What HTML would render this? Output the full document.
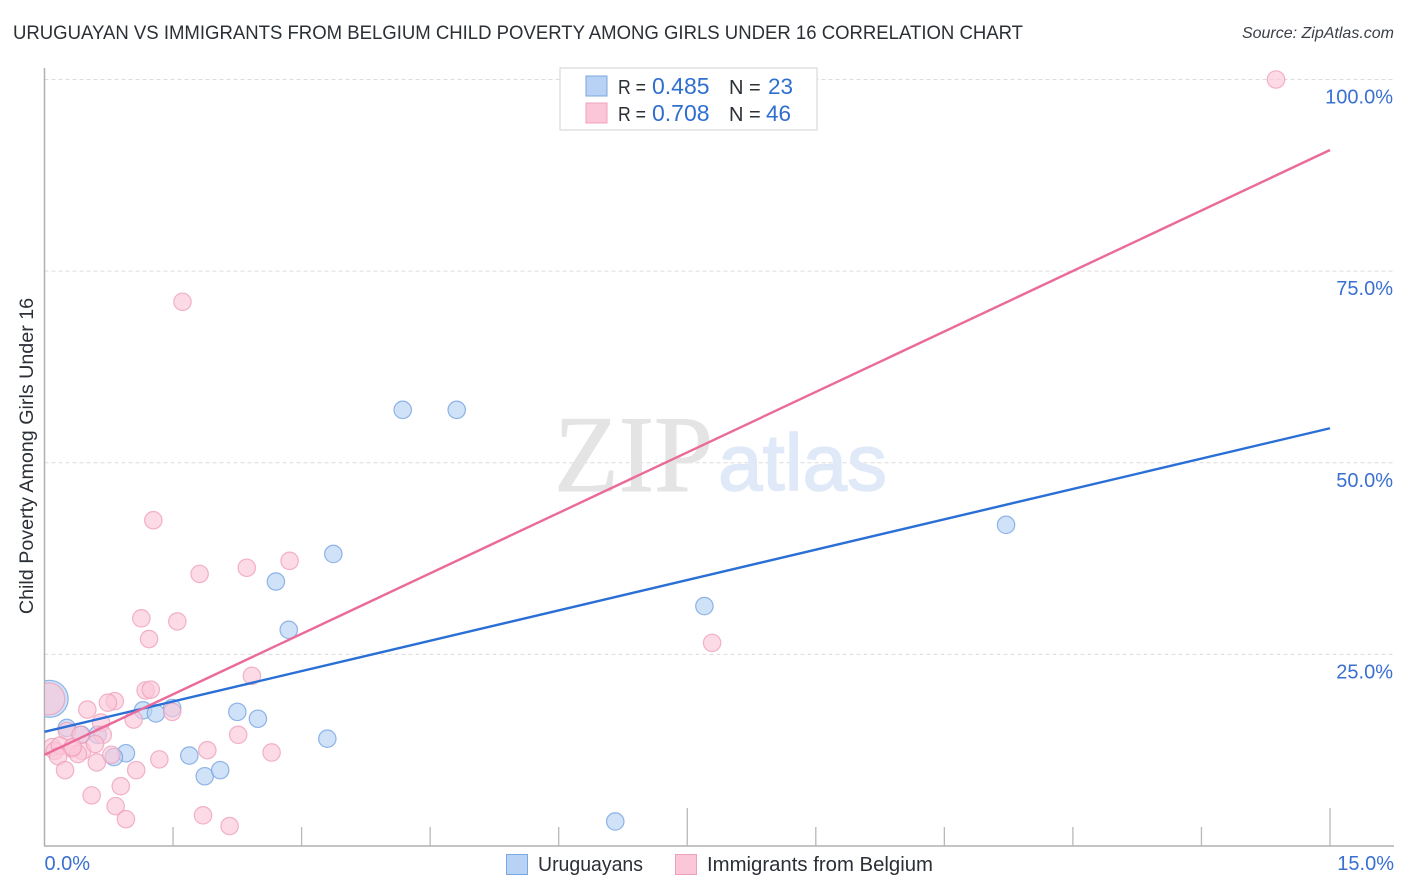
<!DOCTYPE html>
<html lang="en">
<head>
<meta charset="utf-8">
<title>Uruguayan vs Immigrants from Belgium Child Poverty Correlation Chart</title>
<style>
html,body{margin:0;padding:0;background:#fff;width:1406px;height:892px;overflow:hidden}
svg{display:block;font-family:"Liberation Sans",sans-serif}
</style>
</head>
<body>
<svg id="chart" xmlns="http://www.w3.org/2000/svg" width="1406" height="892" viewBox="0 0 1406 892">
  <defs><clipPath id="plot-clip"><rect x="45" y="60" width="1349" height="786"/></clipPath></defs>
  <text x="13" y="39" font-size="19.5" fill="#2b2f36" textLength="1010" lengthAdjust="spacingAndGlyphs">URUGUAYAN VS IMMIGRANTS FROM BELGIUM CHILD POVERTY AMONG GIRLS UNDER 16 CORRELATION CHART</text>
  <text x="1394" y="38" font-size="16" font-style="italic" fill="#3a3f47" text-anchor="end">Source: ZipAtlas.com</text>
  <g id="grid"></g>
  <g>
    <text x="554" y="491" font-family="'Liberation Serif',serif" font-size="109" fill="#e4e4e4" stroke="#e4e4e4" stroke-width="1" textLength="159" lengthAdjust="spacingAndGlyphs">ZIP</text>
    <text x="718" y="490" font-size="80" fill="#dfe9f8" stroke="#dfe9f8" stroke-width="1.5" textLength="169" lengthAdjust="spacingAndGlyphs">atlas</text>
  </g>
  <g id="axes"></g>
  <g id="points" clip-path="url(#plot-clip)"></g>
  <g id="trends"></g>
  <g id="ticklabels"></g>
  <text transform="translate(33,456) rotate(-90)" font-size="19.7" fill="#2b2f36" text-anchor="middle">Child Poverty Among Girls Under 16</text>

  <g>
    <rect x="560" y="68" width="257" height="62" fill="#fff" stroke="#dcdcdc" stroke-width="1.3"/>
    <rect x="586" y="76" width="21" height="20" fill="#b7d2f5" stroke="#7ba7e2" stroke-width="1"/>
    <rect x="586" y="103" width="21" height="20" fill="#fbc6d8" stroke="#f0a0bc" stroke-width="1"/>
    <text y="94" font-size="20" fill="#2b2f36"><tspan x="618" textLength="28" lengthAdjust="spacingAndGlyphs">R =</tspan><tspan x="652" fill="#2f6fd0" font-size="23">0.485</tspan><tspan x="729">N =</tspan><tspan x="768" fill="#2f6fd0" font-size="22.5">23</tspan></text>
    <text y="121" font-size="20" fill="#2b2f36"><tspan x="618" textLength="28" lengthAdjust="spacingAndGlyphs">R =</tspan><tspan x="652" fill="#2f6fd0" font-size="23">0.708</tspan><tspan x="729">N =</tspan><tspan x="766" fill="#2f6fd0" font-size="22.5">46</tspan></text>
  </g>

  <g>
    <rect x="506.500" y="854.500" width="21" height="20" fill="#b7d2f5" stroke="#7ba7e2" stroke-width="1"/>
    <text x="538" y="871" font-size="20" fill="#2b2f36" textLength="105" lengthAdjust="spacingAndGlyphs">Uruguayans</text>
    <rect x="675.500" y="854.500" width="21" height="20" fill="#fbc6d8" stroke="#f0a0bc" stroke-width="1"/>
    <text x="707" y="871" font-size="20" fill="#2b2f36" textLength="226" lengthAdjust="spacingAndGlyphs">Immigrants from Belgium</text>
  </g>
</svg>
<script>
// Chart data (x = percent on horizontal axis, y = child poverty percent)
var uruguayansX = [4.18,4.81,11.22,3.37,2.70,7.70,2.85,1.49,1.15,1.30,2.25,2.49,3.30,0.26,0.43,0.62,0.95,0.81,1.69,1.87,2.05,6.66];
var uruguayansY = [56.9,56.9,41.9,38.1,34.5,31.3,28.2,18.0,17.7,17.3,17.5,16.6,14.0,15.4,14.5,14.5,12.1,11.6,11.8,9.1,9.9,3.2];
var uruguayansBubbleX = [0.06];
var uruguayansBubbleY = [19.2];
var belgiumX = [14.37,1.61,1.27,1.81,2.36,2.86,1.13,1.55,1.22,7.79,2.42,1.18,1.24,0.82,0.74,0.50,1.49,1.04,0.66,2.26,0.68,1.90,2.65,1.34,0.44,0.59,0.26,0.42,0.09,0.12,0.18,0.32,0.39,0.16,0.33,0.61,0.24,0.78,1.07,0.89,0.55,0.83,0.95,1.85,2.16];
var belgiumY = [100.0,71.0,42.5,35.5,36.3,37.2,29.7,29.3,27.0,26.5,22.2,20.3,20.4,18.9,18.7,17.8,17.5,16.5,16.1,14.5,14.5,12.5,12.2,11.3,12.4,13.3,15.0,14.5,12.9,12.4,13.1,12.7,12.0,11.7,12.9,10.9,9.9,11.9,9.9,7.8,6.6,5.2,3.5,4.0,2.6];
var belgiumBubbleX = [0.05];
var belgiumBubbleY = [19.2];
var blueTrendX = [0,15];
var blueTrendY = [14.9,54.5];
var pinkTrendX = [0,15];
var pinkTrendY = [11.9,90.8];
var yTickValues = [25,50,75,100];
var yTickLabels = ["25.0%","50.0%","75.0%","100.0%"];
var xTickValues = [0,1.5,3,4.5,6,7.5,9,10.5,12,13.5,15];
var xEndValues = [0,15];
var xEndLabels = ["0.0%","15.0%"];

var NS = "http://www.w3.org/2000/svg";
function xScale(v){ return 44.5 + v * 85.7; }
function yScale(v){ return 846 - v * 7.665; }
function make(tag, attrs, parent){
  var el = document.createElementNS(NS, tag);
  for (var k in attrs) el.setAttribute(k, attrs[k]);
  parent.appendChild(el);
  return el;
}
var grid = document.getElementById("grid");
var axes = document.getElementById("axes");
var points = document.getElementById("points");
var trends = document.getElementById("trends");
var labels = document.getElementById("ticklabels");

yTickValues.forEach(function(v, i){
  var y = yScale(v);
  var g = make("line", {x1:44.5, x2:1394, y1:y, y2:y, stroke:"#dcdcdc", "stroke-width":1, "stroke-dasharray":"4 3"}, grid);
  
  
  var t = make("text", {x:1393, y:y+24, "font-size":20, fill:"#3a70d2", "text-anchor":"end"}, labels);
  t.textContent = yTickLabels[i];
  
  
});

var yAxis = make("line", {x1:44.5, x2:44.5, y1:68, y2:846, stroke:"#b0b0b0", "stroke-width":1.5}, axes);


var xAxis = make("line", {x1:44, x2:1394, y1:846, y2:846, stroke:"#b0b0b0", "stroke-width":1.5}, axes);



xTickValues.forEach(function(v, i){
  if (i === 0) return;
  var major = (i === 5 || i === 10);
  var x = xScale(v);
  var tk = make("line", {x1:x, x2:x, y1: major ? 808 : 827, y2:846, stroke:"#b8b8b8", "stroke-width":1.3}, axes);
  
  
});

xEndValues.forEach(function(v, i){
  var t = make("text", {x: i === 0 ? xScale(v) : 1394, y:870, "font-size":20, fill:"#3a70d2", "text-anchor": i === 0 ? "start" : "end"}, labels);
  t.textContent = xEndLabels[i];
  
  
});

function drawSeries(xs, ys, r, fill, stroke){
  xs.forEach(function(v, i){
    var c = make("circle", {cx:xScale(v), cy:yScale(ys[i]), r:r, fill:fill, "fill-opacity":0.65, stroke:stroke, "stroke-opacity":0.75, "stroke-width":1.2}, points);
    
    
  });
}
drawSeries(uruguayansBubbleX, uruguayansBubbleY, 18.5, "#b7d2f5", "#6f9fe0");
drawSeries(uruguayansX, uruguayansY, 8.7, "#b7d2f5", "#6f9fe0");
drawSeries(belgiumBubbleX, belgiumBubbleY, 16, "#fbc6d8", "#ee9cb8");
drawSeries(belgiumX, belgiumY, 8.7, "#fbc6d8", "#ee9cb8");

var blueLine = make("line", {x1:xScale(blueTrendX[0]), y1:yScale(blueTrendY[0]), x2:xScale(blueTrendX[1]), y2:yScale(blueTrendY[1]), stroke:"#2a6fd6", "stroke-width":2.4}, trends);


var pinkLine = make("line", {x1:xScale(pinkTrendX[0]), y1:yScale(pinkTrendY[0]), x2:xScale(pinkTrendX[1]), y2:yScale(pinkTrendY[1]), stroke:"#ea6a9a", "stroke-width":2.4}, trends);


</script>
</body>
</html>
